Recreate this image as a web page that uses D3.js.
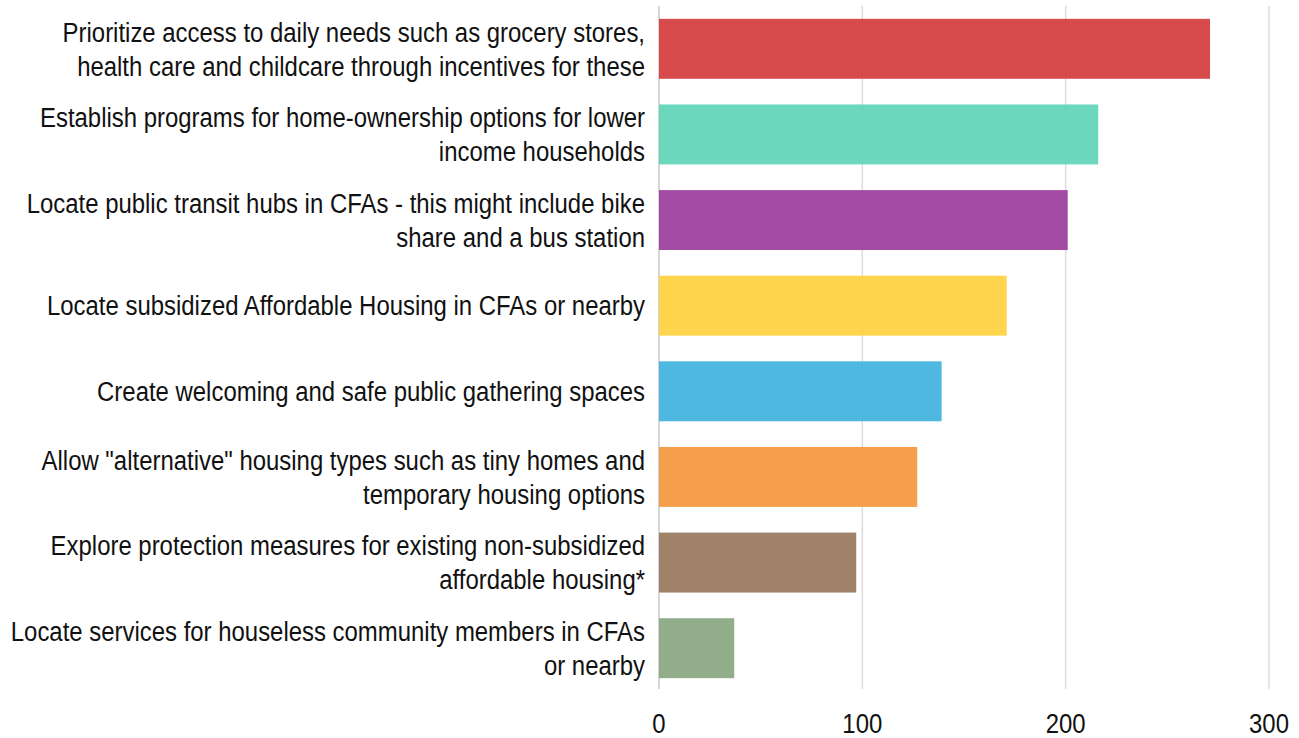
<!DOCTYPE html>
<html><head><meta charset="utf-8">
<script src="https://cdn.jsdelivr.net/npm/d3@7"></script>
<style>body{margin:0;background:#fff}svg{display:block}text{font-family:"Liberation Sans",Arial,sans-serif;fill:#111}</style>
</head><body>
<svg id="c" width="1299" height="738"></svg>
<script>
const categories = [
  ["Prioritize access to daily needs such as grocery stores,", "health care and childcare through incentives for these"],
  ["Establish programs for home-ownership options for lower", "income households"],
  ["Locate public transit hubs in CFAs - this might include bike", "share and a bus station"],
  ["Locate subsidized Affordable Housing in CFAs or nearby"],
  ["Create welcoming and safe public gathering spaces"],
  ["Allow \"alternative\" housing types such as tiny homes and", "temporary housing options"],
  ["Explore protection measures for existing non-subsidized", "affordable housing*"],
  ["Locate services for houseless community members in CFAs", "or nearby"]
];
const values = [271, 216, 201, 171, 139, 127, 97, 37];
const colors = ["#d3373a","#5bd4b7","#99389a","#fed038","#3bb0dd","#f49538","#957456","#85a47d"];
const ticks = [0, 100, 200, 300];

const svg = d3.select("#c");
const x = d3.scaleLinear().domain([0, 300]).range([659, 1269]);
const y = d3.scaleBand().domain(d3.range(categories.length)).range([6, 691]).paddingInner(0.3).paddingOuter(0.15);
const SX = 0.855;

// gridlines
svg.append("g").selectAll("line").data(ticks).join("line")
  .attr("x1", d => x(d)).attr("x2", d => x(d))
  .attr("y1", 6).attr("y2", 689)
  .attr("stroke", d => d === 0 ? "#c8c8c8" : "#dcdcdc").attr("stroke-width", 1.5);

// bars
svg.append("g").selectAll("rect").data(values).join("rect")
  .attr("x", x(0)).attr("y", (d, i) => y(i))
  .attr("width", d => x(d) - x(0)).attr("height", y.bandwidth())
  .attr("fill", (d, i) => colors[i]).attr("fill-opacity", 0.9);

// labels
const lab = svg.append("g").selectAll("text").data(categories).join("text")
  .attr("text-anchor", "end").attr("font-size", 28)
  .attr("transform", (d, i) => `translate(645,${y(i) + y.bandwidth() / 2}) scale(${SX},1)`);
lab.each(function(d) {
  const t = d3.select(this);
  const n = d.length;
  d.forEach((line, k) => {
    t.append("tspan").attr("x", 0)
      .attr("y", (k - (n - 1) / 2) * 34)
      .attr("dy", "0.35em").text(line);
  });
});

// x axis tick labels
svg.append("g").selectAll("text").data(ticks).join("text")
  .attr("text-anchor", "middle").attr("font-size", 28)
  .attr("transform", d => `translate(${x(d)},733) scale(${SX},1)`)
  .text(d => d);
</script>
</body></html>
